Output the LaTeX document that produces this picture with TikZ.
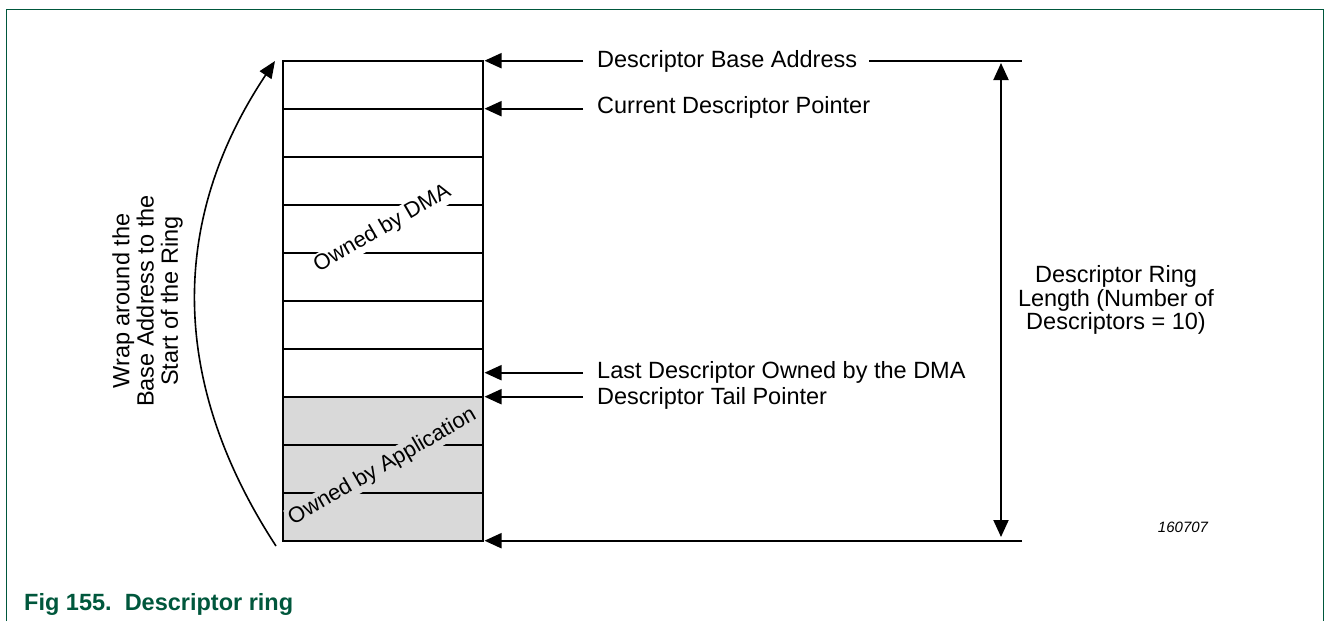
\documentclass[tikz,border=0pt]{standalone}
\usepackage{fontspec}
\setmainfont{Liberation Sans}
\usetikzlibrary{arrows.meta}
\definecolor{nxpgreen}{RGB}{0,87,60}
\definecolor{appgray}{RGB}{217,217,217}
\tikzset{
  ringrow/.style={draw, line width=2pt, minimum width=200pt, minimum height=48pt, inner sep=0pt, outer sep=0pt},
  approw/.style={ringrow, fill=appgray},
  arr/.style={line width=2pt, -{Triangle[length=17pt,width=15pt]}},
  darr/.style={line width=2pt, {Triangle[length=17pt,width=15pt]}-{Triangle[length=17pt,width=15pt]}},
  curvarr/.style={line width=1.6pt, -{Triangle[length=17pt,width=14pt]}},
  plain/.style={line width=2pt},
  lbl/.style={font=\fontsize{23.5}{24}\selectfont, inner sep=0pt, anchor=base west},
  blocktxt/.style={font=\fontsize{23.5}{23.3}\selectfont, align=center, inner sep=0pt},
  ownlbl/.style={font=\fontsize{22}{24}\selectfont, rotate=30, inner sep=1.5pt},
  frame/.style={draw=nxpgreen, line width=1.5pt}
}
\begin{document}
\begin{tikzpicture}[x=1pt,y=-1pt]
\useasboundingbox (0,0) rectangle (1330,621);
% frame
\coordinate (fbl) at (6.5,621);
\coordinate (ftl) at (6.5,9.5);
\coordinate (ftr) at (1323.5,9.5);
\coordinate (fbr) at (1323.5,621);
\draw[frame] (fbl) -- (ftl) -- (ftr) -- (fbr);
% ring rows
\foreach \i in {1,...,7} { \node[ringrow] (r\i) at (382.5,{36.7+48*\i}) {}; }
\foreach \i in {8,9,10} { \node[approw] (r\i) at (382.5,{36.7+48*\i}) {}; }
% labels inside ring
\node[ownlbl, fill=white] (dma) at (382.5,229) {Owned by DMA};
\node[ownlbl, fill=appgray] (app) at (382.5,467) {Owned by Application};
% pointer arrows
\coordinate (s1) at (583,60.7);
\coordinate (s2) at (583,108.7);
\coordinate (s3) at (583,372.7);
\coordinate (s4) at (583,396.7);
\draw[arr] (s1) -- ([xshift=2pt]r1.north east);
\draw[arr] (s2) -- ([xshift=2pt]r2.north east);
\draw[arr] (s3) -- ([xshift=2pt]r7.east);
\draw[arr] (s4) -- ([xshift=2pt]r8.north east);
\node[lbl] (t1) at (597,67) {Descriptor Base Address};
\node[lbl] (t2) at (597,113.5) {Current Descriptor Pointer};
\node[lbl] (t3) at (597,378.8) {Last Descriptor Owned by the DMA};
\node[lbl] (t4) at (597,404) {Descriptor Tail Pointer};
% top and bottom lines
\coordinate (tl) at (869,60.7);
\coordinate (tr) at (1022,60.7);
\draw[plain] (tl) -- (tr);
\coordinate (br) at (1022,540.7);
\draw[arr] (br) -- ([xshift=2pt]r10.south east);
% length arrow
\coordinate (va) at (1001,63);
\coordinate (vb) at (1001,537);
\draw[darr] (va) -- (vb);
\node[blocktxt] (len) at (1116,300) {Descriptor Ring\\Length (Number of\\Descriptors = 10)};
% wrap around arrow
\coordinate (wb) at (276,546);
\coordinate (wt) at (275,61);
\draw[curvarr] (wb) .. controls (169,382) and (169,220) .. (wt);
\node[blocktxt, rotate=90, font=\fontsize{23.5}{24.2}\selectfont] (wrap) at (147.5,301) {Wrap around the\\Base Address to the\\Start of the Ring};
% figure number
\node[font=\fontsize{15}{18}\selectfont\itshape, inner sep=0pt] (num) at (1183,527) {160707};
% caption
\node[font=\fontsize{23.5}{26}\selectfont\bfseries, text=nxpgreen, inner sep=0pt, anchor=base west] (cap) at (24,610.7) {Fig 155.\ \ Descriptor ring};
\end{tikzpicture}
\end{document}
